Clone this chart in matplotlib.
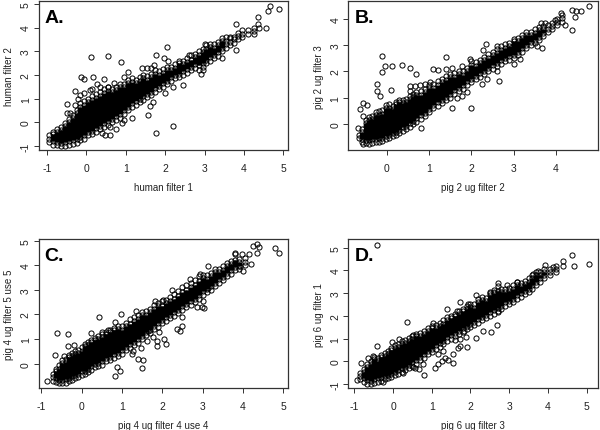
import matplotlib
matplotlib.use('Agg')
import matplotlib.pyplot as plt

plt.rcParams['font.family'] = ['Liberation Sans', 'DejaVu Sans']

a_core = [
    (-0.95, [-.85, -.7, -.55]),
    (-0.85, [-.95, -.8, -.66, -.5, -.4]),
    (-0.75, [-.96, -.82, -.68, -.54, -.42, -.3]),
    (-0.65, [-1, -.87, -.73, -.6, -.46, -.33, -.2]),
    (-0.55, [-.98, -.85, -.71, -.58, -.44, -.3, -.17, -.05]),
    (-0.45, [-.95, -.8, -.67, -.53, -.4, -.27, -.13, 0, .12]),
    (-0.35, [-.9, -.76, -.62, -.48, -.35, -.2, -.07, .06, .2, .32]),
    (-0.25, [-.87, -.72, -.58, -.44, -.3, -.17, -.03, .1, .24, .38, .52]),
    (-0.15, [-.75, -.62, -.48, -.34, -.2, -.06, .08, .22, .36, .5, .64, .8]),
    (-0.05, [-.72, -.55, -.4, -.26, -.12, .02, .16, .3, .44, .58, .72, .88]),
    (0.05, [-.55, -.4, -.26, -.12, .02, .16, .3, .44, .58, .72, .86, 1]),
    (0.15, [-.5, -.35, -.2, -.05, .1, .24, .38, .52, .66, .8, .94, 1.1]),
    (0.25, [-.4, -.25, -.1, .04, .18, .32, .46, .6, .74, .88, 1.02, 1.18]),
    (0.35, [-.3, -.15, 0, .14, .28, .42, .56, .7, .84, .98, 1.12, 1.3]),
    (0.45, [-.2, -.05, .1, .24, .38, .52, .66, .8, .94, 1.08, 1.22, 1.4]),
    (0.55, [-.1, .05, .2, .34, .48, .62, .76, .9, 1.04, 1.18, 1.32, 1.5]),
    (0.65, [0, .15, .3, .44, .58, .72, .86, 1, 1.14, 1.28, 1.42]),
    (0.75, [.1, .25, .4, .54, .68, .82, .96, 1.1, 1.24, 1.38, 1.5]),
    (0.85, [.2, .35, .5, .64, .78, .92, 1.06, 1.2, 1.34, 1.5, 1.62]),
    (0.95, [.35, .5, .64, .78, .92, 1.06, 1.2, 1.34, 1.48, 1.62]),
    (1.05, [.5, .65, .8, .95, 1.1, 1.24, 1.38, 1.52, 1.66, 1.8]),
    (1.15, [.65, .8, .95, 1.1, 1.25, 1.4, 1.55, 1.7, 1.88]),
    (1.25, [.75, .9, 1.05, 1.2, 1.35, 1.5, 1.65, 1.8]),
    (1.35, [.85, 1, 1.15, 1.3, 1.45, 1.6, 1.75, 1.9]),
    (1.45, [.95, 1.1, 1.25, 1.4, 1.55, 1.7, 1.85, 2]),
    (1.55, [1.05, 1.2, 1.35, 1.5, 1.65, 1.8, 1.95]),
    (1.65, [1.15, 1.3, 1.45, 1.6, 1.75, 1.9, 2.05]),
    (1.75, [1.3, 1.45, 1.6, 1.75, 1.9, 2.05, 2.2]),
    (1.85, [1.4, 1.55, 1.7, 1.85, 2, 2.15]),
    (1.95, [1.5, 1.65, 1.8, 1.95, 2.1, 2.25]),
    (2.05, [1.6, 1.75, 1.9, 2.05, 2.2, 2.35]),
    (2.15, [1.75, 1.9, 2.05, 2.2, 2.35]),
    (2.25, [1.85, 2, 2.15, 2.3, 2.45]),
    (2.35, [1.9, 2.05, 2.2, 2.35, 2.5, 2.6]),
    (2.45, [2, 2.15, 2.3, 2.45, 2.6]),
    (2.55, [2.1, 2.25, 2.4, 2.55, 2.7]),
    (2.65, [2.2, 2.35, 2.5, 2.65, 2.85]),
    (2.75, [2.3, 2.45, 2.6, 2.75, 2.9]),
    (2.85, [2.2, 2.4, 2.55, 2.7, 2.85, 3]),
    (2.95, [2.35, 2.5, 2.65, 2.8, 2.95, 3.1]),
    (3.05, [2.5, 2.65, 2.8, 2.95, 3.1, 3.25]),
    (3.15, [2.6, 2.75, 2.9, 3.05, 3.2, 3.3]),
    (3.25, [2.7, 2.85, 3, 3.15, 3.3]),
    (3.35, [2.8, 2.95, 3.1, 3.25, 3.4]),
    (3.45, [3, 3.15, 3.3, 3.45, 3.55]),
    (3.55, [3.15, 3.3, 3.45]),
    (3.65, [3.25, 3.4, 3.55]),
    (3.75, [3.35, 3.5, 3.62]),
    (3.85, [3.5, 3.65, 3.78]),
    (3.95, [3.6, 3.75, 3.9]),
    (4.1, [3.75, 3.9]),
    (4.25, [3.85, 3.98]),
]
a_x_out = [4.88, 4.67, 4.62, 4.35, 3.8, 2.05, 1.77, .55, .12, .87, -.13, -.05, .18, -.3, 1.4, 1.55, 1.65, 1.72, 1.97, 2.07,
           1.05, .95, .45, .7, -.48, -.5, -.42, -.3, -.15, -.22, -.05, .1, .15, .28, .35, .55, 1.57, 1.76, 2.19, 1.62,
           1.7, 1.15, .95, .9, .75, .6, .48, .4, .6, 2, 2.2, 2.45, 2.9, 2.95, 3.45, 3.8, 4.55, 4.35, 4.38, 4.25, 2.6, 3, 3.55, 3.65]
a_y_out = [4.8, 4.9, 4.7, 4.45, 4.15, 3.18, 2.85, 2.8, 2.75, 2.55, 1.92, 1.82, 1.9, 1.33, 2.3, 2.28, 2.3, 2.4, 2.72, 2.6,
           2.13, 1.9, 1.82, 1.65, .77, .4, .4, .75, 1.15, 1, 1.25, 1.35, 1.4, 1.6, 1.5, 1.5, .31, -.47, -.17, .68,
           .85, .2, .1, -.05, -.3, -.55, -.55, -.45, -.2, 1.25, 1.5, 1.58, 2.05, 2.2, 2.7, 3.05, 3.97, 4.15, 4, 3.75, 2.85, 3.3, 3.6, 3.6]

b_core = [
    (-0.65, [-.55, -.42]),
    (-0.58, [-.7, -.58, -.45, -.32, -.2]),
    (-0.5, [-.72, -.6, -.47, -.34, -.21, -.08, .05, .15]),
    (-0.42, [-.75, -.62, -.49, -.36, -.23, -.1, .03, .16, .28]),
    (-0.34, [-.72, -.59, -.46, -.33, -.2, -.07, .06, .19, .32]),
    (-0.26, [-.7, -.57, -.44, -.31, -.18, -.05, .08, .21, .34, .44]),
    (-0.18, [-.68, -.55, -.42, -.29, -.16, -.03, .1, .23, .36, .48]),
    (-0.1, [-.66, -.53, -.4, -.27, -.14, -.01, .12, .25, .38, .52]),
    (-0.02, [-.58, -.45, -.32, -.19, -.06, .07, .2, .33, .46, .6, .72]),
    (0.06, [-.55, -.42, -.29, -.16, -.03, .1, .23, .36, .49, .62, .75]),
    (0.14, [-.47, -.34, -.21, -.08, .05, .18, .31, .44, .57, .7]),
    (0.22, [-.42, -.29, -.16, -.03, .1, .23, .36, .49, .62, .75, .85]),
    (0.3, [-.35, -.22, -.09, .04, .17, .3, .43, .56, .69, .82, .92]),
    (0.38, [-.25, -.12, .01, .14, .27, .4, .53, .66, .79, .92]),
    (0.46, [-.2, -.07, .06, .19, .32, .45, .58, .71, .84, .97]),
    (0.54, [-.1, .03, .16, .29, .42, .55, .68, .81, .94, 1.07]),
    (0.62, [0, .13, .26, .39, .52, .65, .78, .91, 1.04, 1.15]),
    (0.7, [.08, .21, .34, .47, .6, .73, .86, .99, 1.12, 1.22]),
    (0.8, [.2, .33, .46, .59, .72, .85, .98, 1.11, 1.25]),
    (0.9, [.3, .43, .56, .69, .82, .95, 1.08, 1.21, 1.35]),
    (1, [.45, .58, .71, .84, .97, 1.1, 1.23, 1.36, 1.5]),
    (1.1, [.6, .73, .86, .99, 1.12, 1.25, 1.38, 1.52]),
    (1.2, [.7, .83, .96, 1.09, 1.22, 1.35, 1.48, 1.62]),
    (1.3, [.8, .93, 1.06, 1.19, 1.32, 1.45, 1.58, 1.72]),
    (1.4, [.9, 1.03, 1.16, 1.29, 1.42, 1.55, 1.68, 1.82]),
    (1.5, [1, 1.13, 1.26, 1.39, 1.52, 1.65, 1.78, 1.9]),
    (1.6, [1.15, 1.28, 1.41, 1.54, 1.67, 1.8, 1.95]),
    (1.7, [1.25, 1.38, 1.51, 1.64, 1.77, 1.9, 2.03]),
    (1.8, [1.35, 1.48, 1.61, 1.74, 1.87, 2]),
    (1.9, [1.5, 1.63, 1.76, 1.89, 2.02, 2.15]),
    (2, [1.6, 1.73, 1.86, 1.99, 2.12, 2.25, 2.4]),
    (2.1, [1.7, 1.83, 1.96, 2.09, 2.22, 2.35]),
    (2.2, [1.8, 1.93, 2.06, 2.19, 2.32, 2.45]),
    (2.3, [1.9, 2.03, 2.16, 2.29, 2.42, 2.55]),
    (2.4, [2, 2.13, 2.26, 2.39, 2.52, 2.65]),
    (2.5, [2.1, 2.23, 2.36, 2.49, 2.62, 2.75]),
    (2.6, [2.2, 2.33, 2.46, 2.59, 2.72, 2.85]),
    (2.7, [2.3, 2.43, 2.56, 2.69, 2.82, 2.95]),
    (2.8, [2.38, 2.51, 2.64, 2.77, 2.9, 3.03]),
    (2.9, [2.45, 2.58, 2.71, 2.84, 2.97, 3.1]),
    (3, [2.5, 2.63, 2.76, 2.89, 3.02, 3.15, 3.25]),
    (3.1, [2.62, 2.75, 2.88, 3.01, 3.14, 3.27]),
    (3.2, [2.75, 2.88, 3.01, 3.14, 3.27, 3.4]),
    (3.3, [2.88, 3.01, 3.14, 3.27, 3.4, 3.52]),
    (3.4, [3, 3.13, 3.26, 3.39, 3.52]),
    (3.5, [3.08, 3.21, 3.34, 3.47, 3.6]),
    (3.6, [3.2, 3.33, 3.46, 3.59, 3.7]),
    (3.7, [3.35, 3.48, 3.61, 3.72]),
    (3.8, [3.5, 3.63, 3.76]),
    (3.9, [3.6, 3.73, 3.86]),
    (4.02, [3.75, 3.88, 4]),
    (4.15, [3.9, 4.03, 4.15]),
]
b_x_out = [4.78, 4.59, 4.37, 4.47, 4.46, 4.39, 4.21, -.1, -.03, -.1, .13, .37, .54, .69, 1.41, -.24, -.24, .09, -.16, -.55,
           -.63, -.57, -.47, 1.55, 1.98, 2.66, 2.35, 3.68, .8, 1.1, 1.2, 1.39, 1.54, 1.77, 1.97, 2.28, 2.6, 2.36, 2.24, 2.6,
           1.89, 1.77, 1.65, 3, 3.15, 3.56, 3.64, 3.74, 3.98, 4.13, .55, .67, .79, .9, 1.02, .55, -.69, -.57]
b_y_out = [4.48, 4.29, 4.34, 4.3, 4.06, 3.56, 3.75, 2.58, 2.22, 1.97, 2.2, 2.23, 2.13, 1.89, 2.55, 1.54, 1.26, 1.31, 1.08, .8,
           .57, .29, .72, .61, .61, 1.63, 3.05, 2.9, -.15, 2.1, 2.06, 2.1, 2.13, 2.22, 2.48, 2.8, 2.98, 1.71, 1.52, 2.03,
           1.2, 1.08, 1, 2.28, 2.48, 2.98, 3.85, 3.85, 3.97, 4.23, 1.46, 1.43, 1.49, 1.54, 1.59, 1.27, -.16, -.76]

c_core = [
    (-0.72, [-.7, -.55, -.4]),
    (-0.64, [-.75, -.6, -.45, -.3, -.2]),
    (-0.56, [-.8, -.65, -.5, -.35, -.2, -.06]),
    (-0.48, [-.8, -.66, -.52, -.38, -.24, -.1, .04, .14]),
    (-0.4, [-.78, -.64, -.5, -.36, -.22, -.08, .06, .2]),
    (-0.32, [-.72, -.58, -.44, -.3, -.16, -.02, .12, .26, .36]),
    (-0.24, [-.66, -.52, -.38, -.24, -.1, .04, .18, .32, .44]),
    (-0.16, [-.6, -.46, -.32, -.18, -.04, .1, .24, .38, .5]),
    (-0.08, [-.55, -.41, -.27, -.13, .01, .15, .29, .43, .57]),
    (0, [-.45, -.31, -.17, -.03, .11, .25, .39, .53, .67]),
    (0.08, [-.42, -.28, -.14, 0, .14, .28, .42, .56, .7, .8]),
    (0.16, [-.35, -.21, -.07, .07, .21, .35, .49, .63, .77, .88]),
    (0.24, [-.25, -.11, .03, .17, .31, .45, .59, .73, .87, .96]),
    (0.32, [-.15, -.01, .13, .27, .41, .55, .69, .83, .97, 1.05]),
    (0.4, [-.1, .04, .18, .32, .46, .6, .74, .88, 1.02, 1.12]),
    (0.5, [-.05, .09, .23, .37, .51, .65, .79, .93, 1.07, 1.2]),
    (0.6, [.1, .24, .38, .52, .66, .8, .94, 1.08, 1.22, 1.3]),
    (0.7, [.15, .29, .43, .57, .71, .85, .99, 1.13, 1.27, 1.38]),
    (0.8, [.25, .39, .53, .67, .81, .95, 1.09, 1.23, 1.37, 1.46]),
    (0.9, [.3, .44, .58, .72, .86, 1, 1.14, 1.28, 1.42, 1.52]),
    (1, [.4, .54, .68, .82, .96, 1.1, 1.24, 1.38, 1.55]),
    (1.1, [.55, .69, .83, .97, 1.11, 1.25, 1.39, 1.53, 1.67]),
    (1.2, [.65, .79, .93, 1.07, 1.21, 1.35, 1.49, 1.63, 1.8]),
    (1.3, [.75, .89, 1.03, 1.17, 1.31, 1.45, 1.59, 1.73, 1.9]),
    (1.4, [.85, .99, 1.13, 1.27, 1.41, 1.55, 1.69, 1.83, 1.97]),
    (1.5, [1, 1.14, 1.28, 1.42, 1.56, 1.7, 1.84, 1.98, 2.1]),
    (1.6, [1.15, 1.29, 1.43, 1.57, 1.71, 1.85, 1.99, 2.13]),
    (1.7, [1.25, 1.39, 1.53, 1.67, 1.81, 1.95, 2.09, 2.23]),
    (1.8, [1.4, 1.54, 1.68, 1.82, 1.96, 2.1, 2.24, 2.38]),
    (1.9, [1.5, 1.64, 1.78, 1.92, 2.06, 2.2, 2.34, 2.45]),
    (2, [1.65, 1.79, 1.93, 2.07, 2.21, 2.35, 2.55]),
    (2.1, [1.75, 1.89, 2.03, 2.17, 2.31, 2.45, 2.6]),
    (2.2, [1.85, 1.99, 2.13, 2.27, 2.41, 2.55, 2.7]),
    (2.3, [1.95, 2.09, 2.23, 2.37, 2.51, 2.65, 2.82]),
    (2.4, [2.05, 2.19, 2.33, 2.47, 2.61, 2.75, 2.95]),
    (2.5, [2.2, 2.34, 2.48, 2.62, 2.76, 2.9, 3.1]),
    (2.6, [2.3, 2.44, 2.58, 2.72, 2.86, 3, 3.2]),
    (2.7, [2.4, 2.54, 2.68, 2.82, 2.96, 3.1, 3.3]),
    (2.8, [2.5, 2.64, 2.78, 2.92, 3.06, 3.2, 3.4]),
    (2.9, [2.65, 2.79, 2.93, 3.07, 3.21, 3.35, 3.55]),
    (3, [2.8, 2.94, 3.08, 3.22, 3.36, 3.5, 3.6]),
    (3.1, [2.9, 3.04, 3.18, 3.32, 3.46, 3.6]),
    (3.2, [3, 3.14, 3.28, 3.42, 3.56, 3.7]),
    (3.3, [3.15, 3.29, 3.43, 3.57, 3.71, 3.85]),
    (3.4, [3.3, 3.44, 3.58, 3.72, 3.86]),
    (3.5, [3.4, 3.54, 3.68, 3.82, 3.96]),
    (3.6, [3.55, 3.69, 3.83, 3.97, 4.1]),
    (3.7, [3.65, 3.79, 3.93, 4.07, 4.18]),
    (3.8, [3.8, 3.94, 4.08, 4.22, 4.45]),
    (3.9, [3.85, 3.99, 4.13, 4.27]),
    (4.05, [4, 4.14, 4.28]),
]
c_x_out = [4.9, 4.79, 4.4, 4.21, 3.99, 4.34, -.85, -.62, -.35, -.65, .44, .98, .82, .23, .5, .66, -.19, -.33, -.45, .83,
           1.5, 1.53, 1.4, 1.48, 1.88, 2.09, 2.04, 2.45, 2.5, 2.49, 2.36, 3.03, 2.99, 2.85, 3.02, 3.14, 2.23, 1.36, 1.82, 2.02,
           2.69, 2.93, 3.14, 3.8, 3.97, 4.26, 4.16, 4.34, 1.91, 1.78, 1.86, 1.65, 1.61, .95, .87, 1.24, 1.28, 3.93]
c_y_out = [4.49, 4.69, 4.73, 4.05, 3.75, 4.86, -.72, 1.23, 1.2, .37, 1.88, 2.02, 1.68, 1.25, 1.27, 1.38, .77, .73, .33, -.51,
           -.18, .16, .19, .62, .7, .8, 1, 1.31, 1.54, 1.88, 1.41, 2.25, 2.29, 2.32, 2.56, 3.08, 2.99, 2.15, 2.53, 2.59,
           3.44, 3.64, 3.96, 4.49, 4.46, 4.77, 4.46, 4.49, 1.27, 1.07, .93, 1.34, .93, -.28, -.15, .39, .53, 3.98]

d_core = [
    (-0.85, [-.8, -.65, -.5]),
    (-0.76, [-.9, -.75, -.6, -.45, -.32]),
    (-0.67, [-.98, -.83, -.68, -.53, -.38, -.23, -.1]),
    (-0.58, [-1, -.85, -.7, -.55, -.4, -.25, -.1, .02]),
    (-0.49, [-.95, -.8, -.65, -.5, -.35, -.2, -.05, .1, .2]),
    (-0.4, [-.9, -.75, -.6, -.45, -.3, -.15, 0, .15]),
    (-0.31, [-.85, -.7, -.55, -.4, -.25, -.1, .05, .2, .28]),
    (-0.22, [-.8, -.65, -.5, -.35, -.2, -.05, .1, .25, .38]),
    (-0.13, [-.75, -.6, -.45, -.3, -.15, 0, .15, .3, .45]),
    (-0.04, [-.7, -.55, -.4, -.25, -.1, .05, .2, .35, .5, .6]),
    (0.05, [-.62, -.47, -.32, -.17, -.02, .13, .28, .43, .58, .7]),
    (0.14, [-.55, -.4, -.25, -.1, .05, .2, .35, .5, .65, .78]),
    (0.23, [-.45, -.3, -.15, 0, .15, .3, .45, .6, .75, .88]),
    (0.32, [-.4, -.25, -.1, .05, .2, .35, .5, .65, .8, .95]),
    (0.41, [-.3, -.15, 0, .15, .3, .45, .6, .75, .9, 1.02]),
    (0.5, [-.2, -.05, .1, .25, .4, .55, .7, .85, 1, 1.1]),
    (0.6, [-.1, .05, .2, .35, .5, .65, .8, .95, 1.1, 1.2]),
    (0.7, [.05, .2, .35, .5, .65, .8, .95, 1.1, 1.25]),
    (0.8, [.15, .3, .45, .6, .75, .9, 1.05, 1.2, 1.32]),
    (0.9, [.3, .45, .6, .75, .9, 1.05, 1.2, 1.35, 1.45]),
    (1, [.4, .55, .7, .85, 1, 1.15, 1.3, 1.45, 1.55]),
    (1.1, [.55, .7, .85, 1, 1.15, 1.3, 1.45, 1.6]),
    (1.2, [.65, .8, .95, 1.1, 1.25, 1.4, 1.55, 1.7]),
    (1.3, [.75, .9, 1.05, 1.2, 1.35, 1.5, 1.65, 1.82]),
    (1.4, [.9, 1.05, 1.2, 1.35, 1.5, 1.65, 1.8, 1.95]),
    (1.5, [1, 1.15, 1.3, 1.45, 1.6, 1.75, 1.9, 2]),
    (1.6, [1.1, 1.25, 1.4, 1.55, 1.7, 1.85, 2, 2.1]),
    (1.7, [1.2, 1.35, 1.5, 1.65, 1.8, 1.95, 2.1, 2.2]),
    (1.8, [1.3, 1.45, 1.6, 1.75, 1.9, 2.05, 2.2, 2.3]),
    (1.9, [1.4, 1.55, 1.7, 1.85, 2, 2.15, 2.3, 2.45]),
    (2, [1.5, 1.65, 1.8, 1.95, 2.1, 2.25, 2.4, 2.5]),
    (2.1, [1.6, 1.75, 1.9, 2.05, 2.2, 2.35, 2.5]),
    (2.2, [1.7, 1.85, 2, 2.15, 2.3, 2.45, 2.6, 2.75]),
    (2.3, [1.8, 1.95, 2.1, 2.25, 2.4, 2.55, 2.7, 2.85]),
    (2.4, [1.9, 2.05, 2.2, 2.35, 2.5, 2.65, 2.8]),
    (2.5, [2, 2.15, 2.3, 2.45, 2.6, 2.75, 2.9, 3]),
    (2.6, [2.1, 2.25, 2.4, 2.55, 2.7, 2.85, 3, 3.12]),
    (2.7, [2.2, 2.35, 2.5, 2.65, 2.8, 2.95, 3.1, 3.3]),
    (2.8, [2.3, 2.45, 2.6, 2.75, 2.9, 3.05, 3.2]),
    (2.9, [2.45, 2.6, 2.75, 2.9, 3.05, 3.2]),
    (3, [2.5, 2.65, 2.8, 2.95, 3.1, 3.22]),
    (3.1, [2.6, 2.75, 2.9, 3.05, 3.2, 3.35]),
    (3.2, [2.75, 2.9, 3.05, 3.2, 3.35, 3.5]),
    (3.3, [2.85, 3, 3.15, 3.3, 3.45]),
    (3.4, [2.95, 3.1, 3.25, 3.4, 3.55]),
    (3.5, [3.05, 3.2, 3.35, 3.5, 3.68]),
    (3.6, [3.2, 3.35, 3.5, 3.65, 3.82]),
    (3.7, [3.35, 3.5, 3.65, 3.8, 3.95]),
    (3.8, [3.5, 3.65, 3.8, 3.95]),
    (3.9, [3.65, 3.8, 3.95, 4.05]),
    (4.05, [3.8, 3.95, 4.08]),
    (4.2, [3.95, 4.08, 4.2]),
]
d_x_out = [-.42, 5.06, 4.66, 4.63, 4.38, 3.92, .37, -.42, 1.73, 2.14, 1.39, .81, -.82, -.92, 1.08, 1.17, 1.26, 1.34, 1.43, 1.54,
           1.56, 1.3, 1.17, 1.9, 1.73, 1.69, 1.88, 2.13, 2.33, 2.52, 2.68, 2.72, 2.72, 2.61, 2.93, 3.19, 3.62, 3.75, 4.14, 4.38,
           .57, .67, .52, .78, .16, -.02, .51, 1.04, 1.64, 1.94, 2.5, .27, -.27, -.51, -.64, 1.82, 1.73, 1.6]
d_y_out = [5.13, 4.28, 4.18, 4.68, 4.4, 4.25, 1.71, .69, 2.59, 2.94, 2.29, -.59, -.09, -.82, -.28, -.13, .01, .16, .06, -.07,
           .34, .46, .31, .65, .68, .6, 1.07, 1.01, 1.34, 1.29, 1.6, 2.15, 3.44, 3.03, 3.35, 3.5, 3.84, 3.96, 4.13, 4.2,
           -.28, -.32, -.25, -.13, .97, .85, 1.15, 1.68, 2.22, 2.51, 3.03, -.5, -.91, .24, .16, 1.34, .97, .93]


def flatten(core, x_out, y_out):
    xs = list(x_out)
    ys = list(y_out)
    for x, col in core:
        xs += [x] * len(col)
        ys += col
    return xs, ys


def panel(rect, core, x_out, y_out, xlim, ylim, xticks, yticks, xlabel, ylabel, letter):
    # rect is left, top, right, bottom in pixels of the 600x431 picture
    l, t, r, b = rect
    ax = fig.add_axes([l / 600, 1 - b / 431, (r - l) / 600, (b - t) / 431])
    # overplotted circles merge to solid black inside the cloud, so fill each column
    # between its second lowest and second highest point
    for x, col in core:
        if len(col) > 3:
            ax.vlines(x, col[1], col[-2], color='black', lw=3.6, zorder=2)
    xs, ys = flatten(core, x_out, y_out)
    ax.plot(xs, ys, 'o', mfc='none', mec='black', ms=3.7, mew=0.7, zorder=3)
    ax.set_xlim(xlim)
    ax.set_ylim(ylim)
    ax.set_xticks(xticks)
    ax.set_yticks(yticks)
    ax.set_xticklabels([str(v) for v in xticks])
    ax.set_yticklabels([str(v) for v in yticks], rotation=90, va='center')
    ax.tick_params(length=3.6, width=0.7, color='#333333', labelcolor='#222222', labelsize=7.5)
    ax.tick_params(axis='x', pad=6)
    ax.tick_params(axis='y', pad=2)
    for s in ax.spines.values():
        s.set_linewidth(0.9)
        s.set_color('#333333')
    ax.set_xlabel(xlabel, fontsize=7, color='#222222', labelpad=6)
    ax.set_ylabel(ylabel, fontsize=7, color='#222222', labelpad=5)
    ax.text(0.025, 0.89, letter, transform=ax.transAxes, fontsize=14, fontweight='bold', color='black', va='center')


fig = plt.figure(figsize=(6, 4.31), dpi=100)

panel((38.5, 2.3, 288, 151), a_core, a_x_out, a_y_out, (-1.216, 5.12), (-1.17, 5.11),
      [-1, 0, 1, 2, 3, 4, 5], [-1, 0, 1, 2, 3, 4, 5], 'human filter 1', 'human filter 2', 'A.')
panel((348.3, 2.3, 598.3, 151), b_core, b_x_out, b_y_out, (-0.908, 5.0), (-0.99, 4.67),
      [0, 1, 2, 3, 4], [0, 1, 2, 3, 4], 'pig 2 ug filter 2', 'pig 2 ug filter 3', 'B.')
panel((38.5, 240.3, 288, 389), c_core, c_x_out, c_y_out, (-1.07, 5.117), (-0.988, 5.057),
      [-1, 0, 1, 2, 3, 4, 5], [0, 1, 2, 3, 4, 5], 'pig 4 ug filter 4 use 4', 'pig 4 ug filter 5 use 5', 'C.')
panel((348.3, 240.3, 598.3, 389), d_core, d_x_out, d_y_out, (-1.155, 5.3), (-1.176, 5.37),
      [-1, 0, 1, 2, 3, 4, 5], [-1, 0, 1, 2, 3, 4, 5], 'pig 6 ug filter 3', 'pig 6 ug filter 1', 'D.')

fig.savefig('out.png', dpi=100)
